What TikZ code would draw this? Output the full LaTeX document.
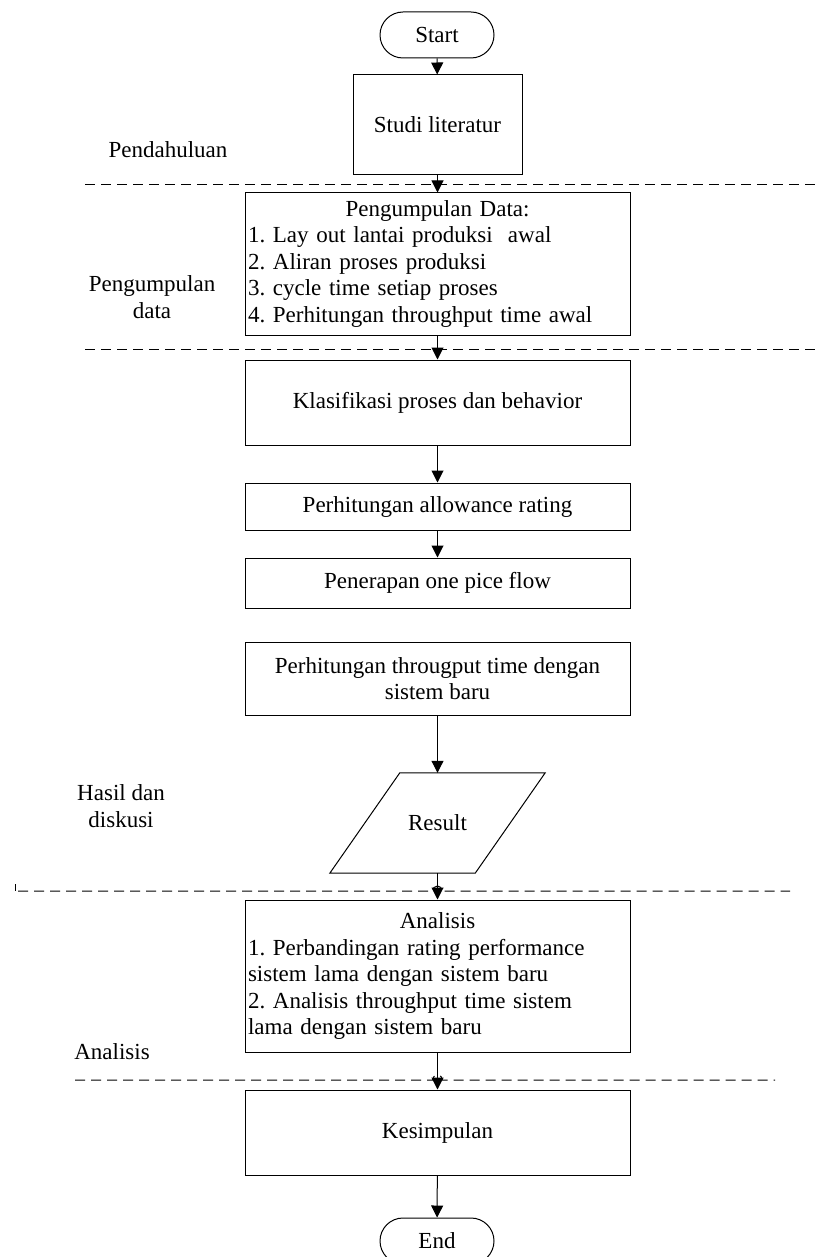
\documentclass[tikz,border=0pt]{standalone}
\usepackage{fontspec}
\setmainfont{Liberation Serif}
\usetikzlibrary{arrows.meta}
\frenchspacing
\begin{document}
\begin{tikzpicture}[x=1pt,y=-1pt,
  every node/.style={font=\fontsize{23}{26.5}\selectfont, inner sep=0pt},
  box/.style={draw, line width=1pt, minimum width=385pt},
  term/.style={draw, line width=1pt, rounded corners=23pt, minimum width=114pt, minimum height=46pt},
  flow/.style={line width=1pt, -{Triangle[length=12pt,width=12pt]}},
  sepline/.style={line width=1pt, dash pattern=on 10pt off 6pt}]
\useasboundingbox (0,0) rectangle (821,1257);
% nodes
\node[term] (start) at (437,35) {Start};
\node[box, minimum width=169pt, minimum height=100pt] (studi) at (437.5,125) {Studi literatur};
\node[box, minimum height=142pt, text width=379pt, align=left] (kumpul) at (437.5,264)
  {\makebox[379pt]{Pengumpulan Data:}\\1. Lay out lantai produksi\ \ awal\\2. Aliran proses produksi\\3. cycle time setiap proses\\4. Perhitungan throughput time awal};
\node[box, minimum height=85pt] (klas) at (437.5,402.5) {Klasifikasi proses dan behavior};
\node[box, minimum height=47pt] (allow) at (437.5,506.5) {Perhitungan allowance rating};
\node[box, minimum height=50pt] (pener) at (437.5,583) {Penerapan one pice flow};
\node[box, minimum height=73pt, align=center] (thru) at (437.5,678.5) {Perhitungan througput time dengan\\sistem baru};
\node[minimum width=145pt, minimum height=100pt] (result) at (437.5,823) {Result};
\draw[line width=1pt] ([xshift=-35pt]result.south west) -- ([xshift=35pt]result.north west)
  -- ([xshift=35pt]result.north east) -- ([xshift=-35pt]result.south east) -- cycle;
\node[box, minimum height=152pt, text width=379pt, align=left] (anal) at (437.5,976)
  {\makebox[379pt]{Analisis}\\1. Perbandingan rating performance\\sistem lama dengan sistem baru\\2. Analisis throughput time sistem\\lama dengan sistem baru};
\node[box, minimum height=85pt] (simp) at (437.5,1132.5) {Kesimpulan};
\node[term] (end) at (437,1241) {End};
% labels
\node (l1) at (168,150) {Pendahuluan};
\node[align=center] (l2) at (152,297) {Pengumpulan\\data};
\node[align=center] (l3) at (121,806) {Hasil dan\\diskusi};
\node (l4) at (112,1052) {Analisis};
% connectors
\draw[flow] (start) -- (studi);
\draw[flow] (studi) -- (kumpul);
\draw[flow] (kumpul) -- (klas);
\draw[flow] (klas) -- (allow);
\draw[flow] (allow) -- (pener);
\draw[flow] (thru) -- (result);
\draw[flow] (result.south) -- (anal);
\draw[flow] (anal) -- (simp);
\draw[flow] (simp) -- (end);
% separators
\draw[sepline] (85,185) -- (821,185);
\draw[sepline] (85,349) -- (821,349);
\draw[line width=1pt] (15,884) -- (15,891);
\draw[sepline] (18,891) -- (432.5,891) arc[start angle=180,end angle=0,radius=5pt] -- (790,891);
\draw[sepline] (75,1080) -- (432.5,1080) arc[start angle=180,end angle=0,radius=5pt] -- (775,1080);
\end{tikzpicture}
\end{document}
